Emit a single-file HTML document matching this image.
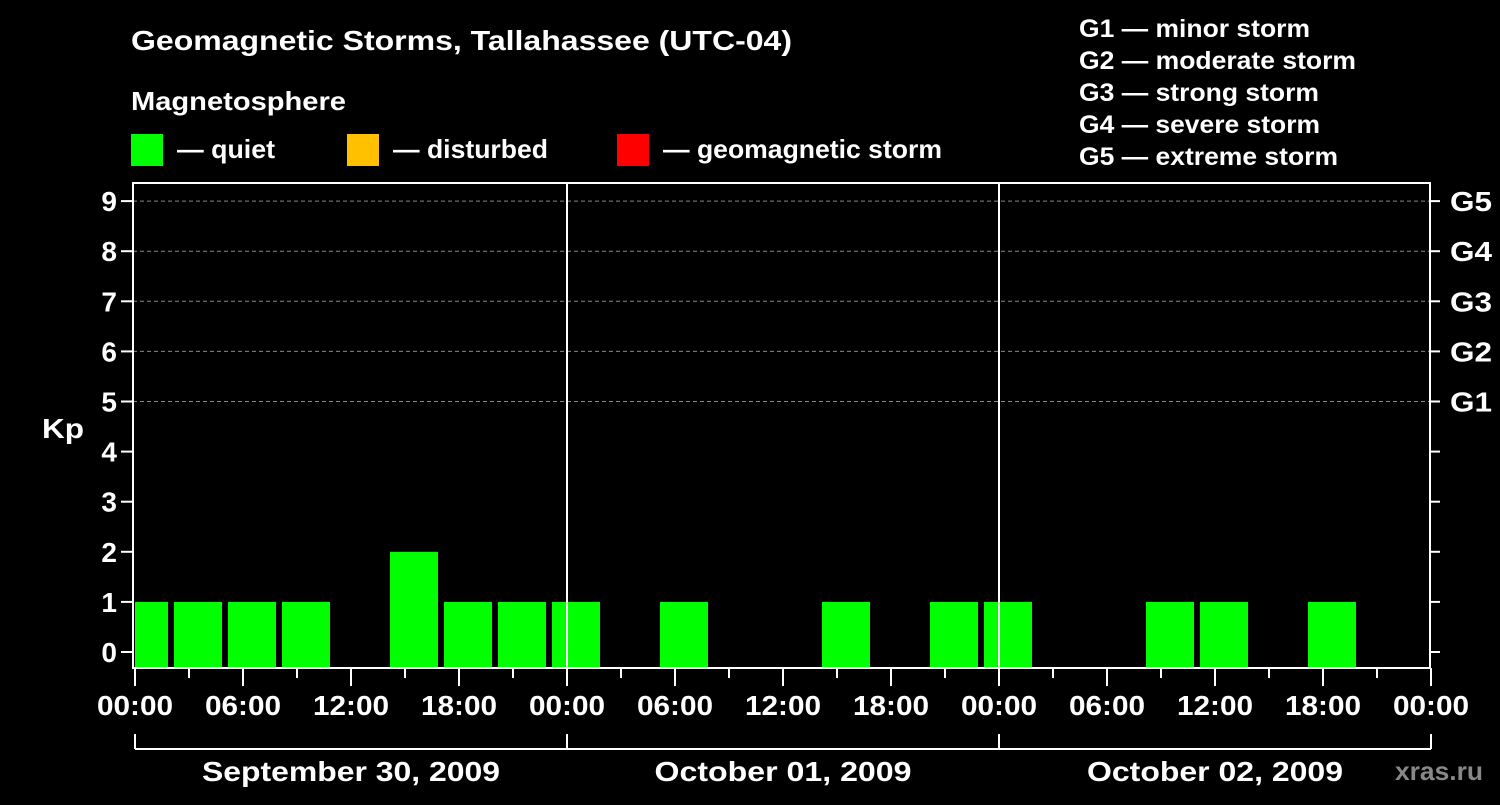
<!DOCTYPE html>
<html><head><meta charset="utf-8"><style>
body{margin:0;background:#000;width:1500px;height:800px;overflow:hidden}
svg text{font-family:"Liberation Sans",sans-serif;font-weight:bold;fill:#fff}
</style></head><body>
<svg id="chart" width="1500" height="800" xmlns="http://www.w3.org/2000/svg">
<text x="131" y="50" font-size="28" textLength="661" lengthAdjust="spacingAndGlyphs">Geomagnetic Storms, Tallahassee (UTC-04)</text>
<text x="131" y="110" font-size="26" textLength="215" lengthAdjust="spacingAndGlyphs">Magnetosphere</text>
<g><rect x="131" y="134" width="32" height="32" fill="#00ff00"/><text x="177" y="158" font-size="26" textLength="98" lengthAdjust="spacingAndGlyphs">— quiet</text></g>
<g><rect x="347" y="134" width="32" height="32" fill="#ffc000"/><text x="393" y="158" font-size="26" textLength="155" lengthAdjust="spacingAndGlyphs">— disturbed</text></g>
<g><rect x="617" y="134" width="32" height="32" fill="#ff0000"/><text x="663" y="158" font-size="26" textLength="279" lengthAdjust="spacingAndGlyphs">— geomagnetic storm</text></g>
<g font-size="25">
<text x="1079" y="37" textLength="231" lengthAdjust="spacingAndGlyphs">G1 — minor storm</text><text x="1079" y="69" textLength="277" lengthAdjust="spacingAndGlyphs">G2 — moderate storm</text><text x="1079" y="101" textLength="240" lengthAdjust="spacingAndGlyphs">G3 — strong storm</text><text x="1079" y="133" textLength="241" lengthAdjust="spacingAndGlyphs">G4 — severe storm</text><text x="1079" y="165" textLength="259" lengthAdjust="spacingAndGlyphs">G5 — extreme storm</text></g>
<text x="42" y="438" font-size="28" textLength="42" lengthAdjust="spacingAndGlyphs">Kp</text>
<text x="1395" y="780" font-size="26" style="fill:#888" textLength="88" lengthAdjust="spacingAndGlyphs">xras.ru</text>
<g id="plot"></g>
</svg>
<script>
const slotStartHours=[-1,2,5,8,11,14,17,20,23,26,29,32,35,38,41,44,47,50,53,56,59,62,65,68,71];
const kpValues=[1,1,1,1,0,2,1,1,1,0,1,0,0,1,0,1,1,0,0,1,1,0,1,0,0];
const yTicks=[0,1,2,3,4,5,6,7,8,9];
const gLabels=["G1","G2","G3","G4","G5"];
const hourLabels=["00:00","06:00","12:00","18:00"];
const dayLabels=["September 30, 2009","October 01, 2009","October 02, 2009"];
const NS="http://www.w3.org/2000/svg";
const L=133,R=1430,T=183,B=668,X0=135;
const x=h=>X0+h*18;
const y=v=>652-v*50.1;
const g=document.getElementById('plot');
function mk(t,a,p){const e=document.createElementNS(NS,t);for(const k in a)e.setAttribute(k,a[k]);(p||g).appendChild(e);return e;}
const defs=mk('defs',{});const cp=mk('clipPath',{id:'c'},defs);mk('rect',{x:L+2,y:T,width:R-L-2,height:B-T},cp);
yTicks.forEach(v=>{
 if(v>=5){const gl=mk('line',{x1:L,x2:R,y1:y(v),y2:y(v),stroke:'#888','stroke-dasharray':'4,3','stroke-width':1});
 
 }
 const t1=mk('line',{x1:L-12,x2:L,y1:y(v),y2:y(v),stroke:'#fff','stroke-width':2});
 
 
 mk('line',{x1:R,x2:R+10,y1:y(v),y2:y(v),stroke:'#fff','stroke-width':2});
 const tl=mk('text',{x:L-16,y:y(v)+10,'text-anchor':'end','font-size':28});tl.textContent=v;
 
 
 if(v>=5){const gt=mk('text',{x:R+20,y:y(v)+10,'font-size':28,textLength:42,lengthAdjust:'spacingAndGlyphs'});gt.textContent=gLabels[v-5];
 
 }
});
const bg=mk('g',{'clip-path':'url(#c)'});
slotStartHours.forEach((h,i)=>{
 const v=kpValues[i];if(v<=0)return;
 const r=mk('rect',{x:x(h)+3,y:y(v),width:48,height:B-y(v),fill:'#00ff00'},bg);
 
 
});
[1,2].forEach(d=>mk('line',{x1:x(24*d),x2:x(24*d),y1:T,y2:B,stroke:'#fff','stroke-width':2}));
mk('rect',{x:L,y:T,width:R-L,height:B-T,fill:'none',stroke:'#fff','stroke-width':2});
for(let h=0;h<=72;h+=3){
 const major=h%6===0;
 mk('line',{x1:x(h),x2:x(h),y1:B,y2:B+(major?18:10),stroke:'#fff','stroke-width':2});
 if(major){const t=mk('text',{x:x(h),y:B+47,'text-anchor':'middle','font-size':28,textLength:76,lengthAdjust:'spacingAndGlyphs'});t.textContent=hourLabels[(h/6)%4];
 
 }
}
mk('line',{x1:x(0),x2:x(72),y1:749,y2:749,stroke:'#fff','stroke-width':2});
for(let d=0;d<=3;d++)mk('line',{x1:x(24*d),x2:x(24*d),y1:734,y2:749,stroke:'#fff','stroke-width':2});
const dayW=[298,257,256];
dayLabels.forEach((s,d)=>{const t=mk('text',{x:x(24*d+12),y:781,'text-anchor':'middle','font-size':28,textLength:dayW[d],lengthAdjust:'spacingAndGlyphs'});t.textContent=s;
 
 });
</script>
</body></html>
